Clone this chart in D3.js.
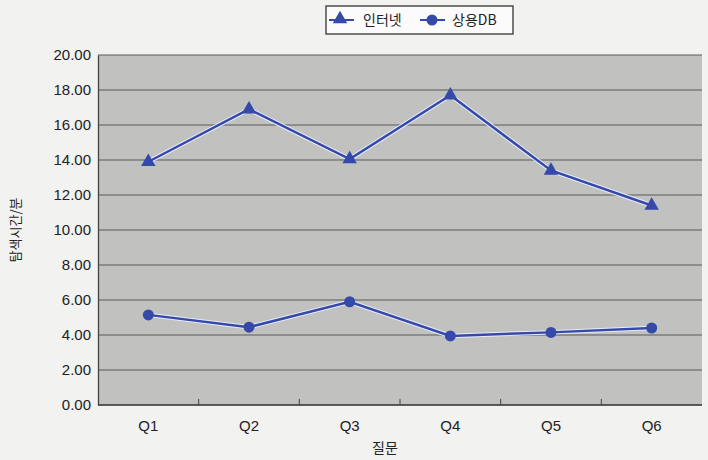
<!DOCTYPE html>
<html>
<head>
<meta charset="utf-8">
<script src="https://cdn.jsdelivr.net/npm/d3@7"></script>
<style>
  body { margin: 0; background: #f2f2f0; }
  svg { display: block; }
  text { font-family: "Liberation Sans", "Noto Sans CJK KR", sans-serif; fill: #222; }
</style>
</head>
<body>
<svg id="chart"></svg>
<script>
// data
var questions = ["Q1", "Q2", "Q3", "Q4", "Q5", "Q6"];
var internetTimes = [13.9, 16.9, 14.05, 17.7, 13.4, 11.4];
var dbTimes = [5.15, 4.45, 5.9, 3.95, 4.15, 4.4];
var yTicks = [0, 2, 4, 6, 8, 10, 12, 14, 16, 18, 20];
var seriesNames = ["인터넷", "상용DB"];

var width = 708, height = 460;
var margin = {top: 55, right: 6, bottom: 55, left: 98};
var lineColor = "#3549a8";

var svg = d3.select("#chart").attr("width", width).attr("height", height);

var x = d3.scaleBand()
    .domain(questions)
    .range([margin.left, width - margin.right]);

var y = d3.scaleLinear()
    .domain([0, 20])
    .range([height - margin.bottom, margin.top]);

// plot background
svg.append("rect")
    .attr("x", margin.left)
    .attr("y", margin.top)
    .attr("width", width - margin.left - margin.right)
    .attr("height", height - margin.top - margin.bottom)
    .attr("fill", "#c1c1bf");

// grid lines
svg.append("g")
    .selectAll("line")
    .data(yTicks)
    .enter()
    .append("line")
    .attr("x1", margin.left)
    .attr("x2", width - margin.right)
    .attr("y1", function (d) { return y(d); })
    .attr("y2", function (d) { return y(d); })
    .attr("stroke", "#5a5a5a")
    .attr("stroke-width", 1.2);

// y axis
var yAxis = svg.append("g")
    .attr("transform", "translate(" + margin.left + ",0)")
    .call(d3.axisLeft(y).tickValues(yTicks).tickFormat(d3.format(".2f")).tickSize(0).tickPadding(7));
yAxis.select(".domain").attr("stroke", "#444").attr("stroke-width", 1.3);
yAxis.selectAll("text").style("font-size", "15px").attr("fill", "#222");

// x axis, ticks between the categories pointing up
var bounds = questions.slice(1).map(function (q) { return x(q); });
svg.append("g")
    .selectAll("line")
    .data(bounds)
    .enter()
    .append("line")
    .attr("x1", function (d) { return d; })
    .attr("x2", function (d) { return d; })
    .attr("y1", y(0))
    .attr("y2", y(0) - 6)
    .attr("stroke", "#444");

svg.append("line")
    .attr("x1", margin.left).attr("x2", width - margin.right)
    .attr("y1", y(0)).attr("y2", y(0))
    .attr("stroke", "#444").attr("stroke-width", 1.3);

svg.append("g")
    .selectAll("text")
    .data(questions)
    .enter()
    .append("text")
    .attr("x", function (d) { return x(d) + x.bandwidth() / 2; })
    .attr("y", y(0) + 26)
    .attr("text-anchor", "middle")
    .style("font-size", "15px")
    .text(function (d) { return d; });

// axis titles
svg.append("text")
    .attr("x", 385)
    .attr("y", 453)
    .attr("text-anchor", "middle")
    .style("font-size", "14px")
    .style("font-family", "Noto Sans CJK KR")
    .text("질문");

svg.append("text")
    .attr("transform", "translate(20,230) rotate(-90)")
    .attr("text-anchor", "middle")
    .style("font-size", "13px")
    .style("font-family", "Noto Sans CJK KR")
    .text("탐색시간/분");

// lines
var line = d3.line()
    .x(function (d, i) { return x(questions[i]) + x.bandwidth() / 2; })
    .y(function (d) { return y(d); });

[internetTimes, dbTimes].forEach(function (vals) {
    svg.append("path")
        .datum(vals)
        .attr("d", line)
        .attr("fill", "none")
        .attr("stroke", "#e8ecff")
        .attr("stroke-width", 4.5);
    svg.append("path")
        .datum(vals)
        .attr("d", line)
        .attr("fill", "none")
        .attr("stroke", lineColor)
        .attr("stroke-width", 2.5);
});

var triangle = d3.symbol().type(d3.symbolTriangle).size(90);

svg.append("g")
    .selectAll("path")
    .data(internetTimes)
    .enter()
    .append("path")
    .attr("d", triangle)
    .attr("transform", function (d, i) {
        return "translate(" + (x(questions[i]) + x.bandwidth() / 2) + "," + y(d) + ")";
    })
    .attr("fill", lineColor);

svg.append("g")
    .selectAll("circle")
    .data(dbTimes)
    .enter()
    .append("circle")
    .attr("cx", function (d, i) { return x(questions[i]) + x.bandwidth() / 2; })
    .attr("cy", function (d) { return y(d); })
    .attr("r", 5.5)
    .attr("fill", lineColor);

// legend
var legend = svg.append("g");
legend.append("rect")
    .attr("x", 326).attr("y", 6)
    .attr("width", 187).attr("height", 28)
    .attr("fill", "#fbfbfb")
    .attr("stroke", "#333")
    .attr("stroke-width", 1.3);

var legendX = [329, 420];
seriesNames.forEach(function (name, i) {
    var lx = legendX[i];
    legend.append("line")
        .attr("x1", lx).attr("x2", lx + 25)
        .attr("y1", 20).attr("y2", 20)
        .attr("stroke", lineColor).attr("stroke-width", 2);
    if (i === 0) {
        legend.append("path")
            .attr("d", d3.symbol().type(d3.symbolTriangle).size(90))
            .attr("transform", "translate(" + (lx + 11) + ",19)")
            .attr("fill", lineColor);
    } else {
        legend.append("circle")
            .attr("cx", lx + 12).attr("cy", 20).attr("r", 5.5)
            .attr("fill", lineColor);
    }
    legend.append("text")
        .attr("x", lx + (i === 0 ? 34 : 32))
        .attr("y", 25)
        .style("font-size", "14px")
        .style("font-family", "Noto Sans CJK KR")
        .text(name);
});
</script>
</body>
</html>
